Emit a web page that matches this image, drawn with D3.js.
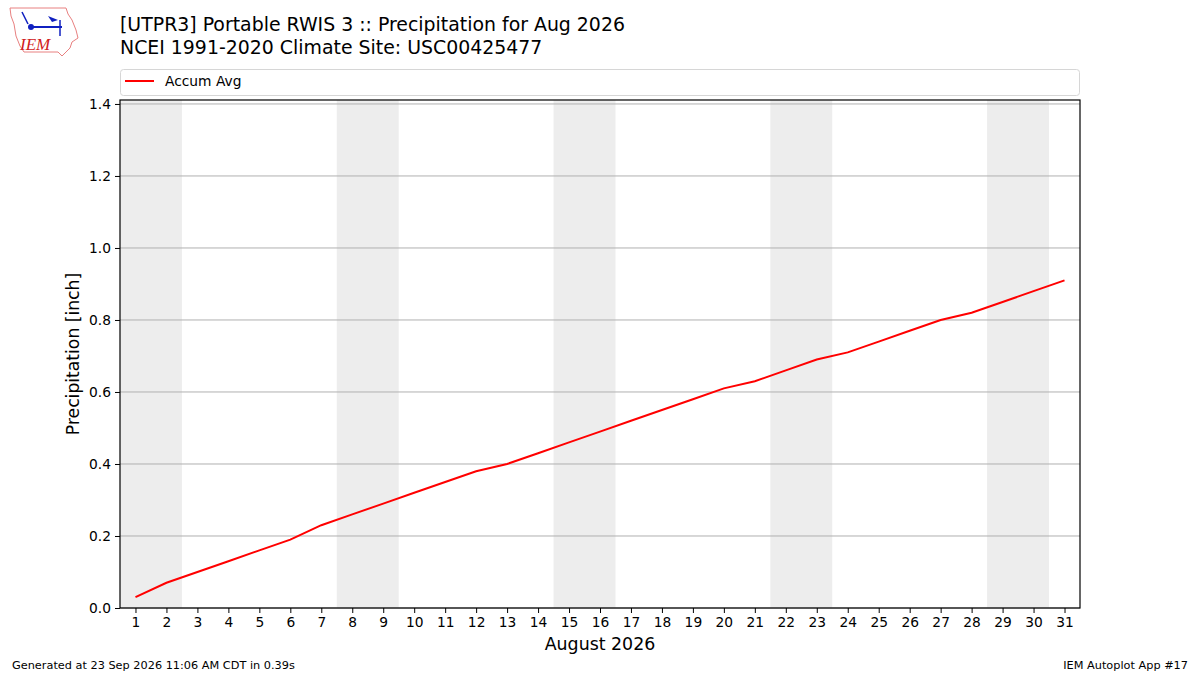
<!DOCTYPE html>
<html><head><meta charset="utf-8">
<script src="https://cdn.jsdelivr.net/npm/d3@7"></script>
<style>body{margin:0;background:#fff;} svg{display:block;font-family:"DejaVu Sans",sans-serif;}</style>
</head><body>
<svg id="c" width="1200" height="675"></svg>
<script>
const days = d3.range(1, 32);
const accumAvg = [0.03,0.07,0.10,0.13,0.16,0.19,0.23,0.26,0.29,0.32,0.35,0.38,0.40,0.43,0.46,0.49,0.52,0.55,0.58,0.61,0.63,0.66,0.69,0.71,0.74,0.77,0.80,0.82,0.85,0.88,0.91];
const weekendStarts = [1, 8, 15, 22, 29];
const yTicks = [0.0,0.2,0.4,0.6,0.8,1.0,1.2,1.4];
const titleLines = ["[UTPR3] Portable RWIS 3 :: Precipitation for Aug 2026","NCEI 1991-2020 Climate Site: USC00425477"];
const seriesName = "Accum Avg";
const xLabel = "August 2026";
const yLabel = "Precipitation [inch]";
const footerLeft = "Generated at 23 Sep 2026 11:06 AM CDT in 0.39s";
const footerRight = "IEM Autoplot App #17";

const svg = d3.select("#c");
const L=120, R=1080, T=100, B=608;
const x = d3.scaleLinear().domain([0.5,31.5]).range([L,R]);
const y = d3.scaleLinear().domain([0,1.411]).range([B,T]);

// weekend shading
svg.append("g").selectAll("rect").data(weekendStarts).join("rect")
  .attr("x", d=>x(d-0.5)).attr("width", d=>x(d+1.5)-x(d-0.5))
  .attr("y", T).attr("height", B-T).attr("fill","#ededed");

// grid
svg.append("g").selectAll("line").data(yTicks).join("line")
  .attr("x1",L).attr("x2",R).attr("y1",d=>y(d)).attr("y2",d=>y(d))
  .attr("stroke","#b0b0b0").attr("stroke-width",1);

// line
svg.append("path").datum(accumAvg)
  .attr("d", d3.line().x((d,i)=>x(days[i])).y(d=>y(d)))
  .attr("fill","none").attr("stroke","#ff0000").attr("stroke-width",2);

// frame
svg.append("rect").attr("x",L).attr("y",T).attr("width",R-L).attr("height",B-T)
  .attr("fill","none").attr("stroke","#000").attr("stroke-width",1.2);

// axes
const xa = svg.append("g").attr("transform",`translate(0,${B})`)
  .call(d3.axisBottom(x).tickValues(days).tickFormat(d3.format("d")).tickSizeOuter(0).tickSize(5).tickPadding(4));
const ya = svg.append("g").attr("transform",`translate(${L},0)`)
  .call(d3.axisLeft(y).tickValues(yTicks).tickFormat(d3.format(".1f")).tickSizeOuter(0).tickSize(5).tickPadding(4));
[xa,ya].forEach(a=>{
  a.select(".domain").remove();
  a.selectAll("text").attr("font-size",13.8).attr("fill","#000").attr("font-family","DejaVu Sans");
  a.selectAll("line").attr("stroke","#000");
});

// axis labels
svg.append("text").attr("x",(L+R)/2).attr("y",650).attr("text-anchor","middle")
  .attr("font-size",17.4).text(xLabel);
svg.append("text").attr("transform",`translate(79,${(T+B)/2}) rotate(-90)`).attr("text-anchor","middle")
  .attr("font-size",17.2).text(yLabel);

// titles
svg.append("text").attr("x",120).attr("y",31).attr("font-size",18.9).text(titleLines[0]);
svg.append("text").attr("x",120).attr("y",54).attr("font-size",18.9).text(titleLines[1]);

// legend
svg.append("rect").attr("x",120.5).attr("y",69.5).attr("width",959).attr("height",26).attr("rx",3)
  .attr("fill","#fff").attr("stroke","#d6d6d6");
svg.append("line").attr("x1",125).attr("x2",154).attr("y1",81).attr("y2",81).attr("stroke","#ff0000").attr("stroke-width",2);
svg.append("text").attr("x",165).attr("y",86).attr("font-size",13.8).text(seriesName);

// footers
svg.append("text").attr("x",12).attr("y",669).attr("font-size",11.3).text(footerLeft);
svg.append("text").attr("x",1188).attr("y",669).attr("font-size",11.3).attr("text-anchor","end").text(footerRight);

// logo (approximate)
const lg = svg.append("g");
lg.append("path").attr("d","M10,8 L66,8 L68,14 L72,20 L76,30 L78,38 L72,42 L70,48 L66,52 L62,56 L58,52 L24,52 L20,46 L16,36 L14,24 L11,16 Z")
  .attr("fill","#fff").attr("stroke","#e88080").attr("stroke-width",1);
lg.append("line").attr("x1",31).attr("x2",62).attr("y1",27).attr("y2",27).attr("stroke","#1020c0").attr("stroke-width",2);
lg.append("circle").attr("cx",31).attr("cy",27).attr("r",3).attr("fill","#1020c0");
lg.append("path").attr("d","M48,16 L58,20 L52,22 Z").attr("fill","#1020c0");
lg.append("line").attr("x1",60).attr("x2",60).attr("y1",20).attr("y2",36).attr("stroke","#1020c0").attr("stroke-width",1.5);
lg.append("path").attr("d","M22,12 L28,24").attr("stroke","#1020c0").attr("stroke-width",1.5).attr("fill","none");
lg.append("text").attr("x",20).attr("y",50).attr("font-family","Liberation Serif, serif").attr("font-style","italic")
  .attr("font-size",17).attr("fill","#d02020").text("IEM");
</script>
</body></html>
